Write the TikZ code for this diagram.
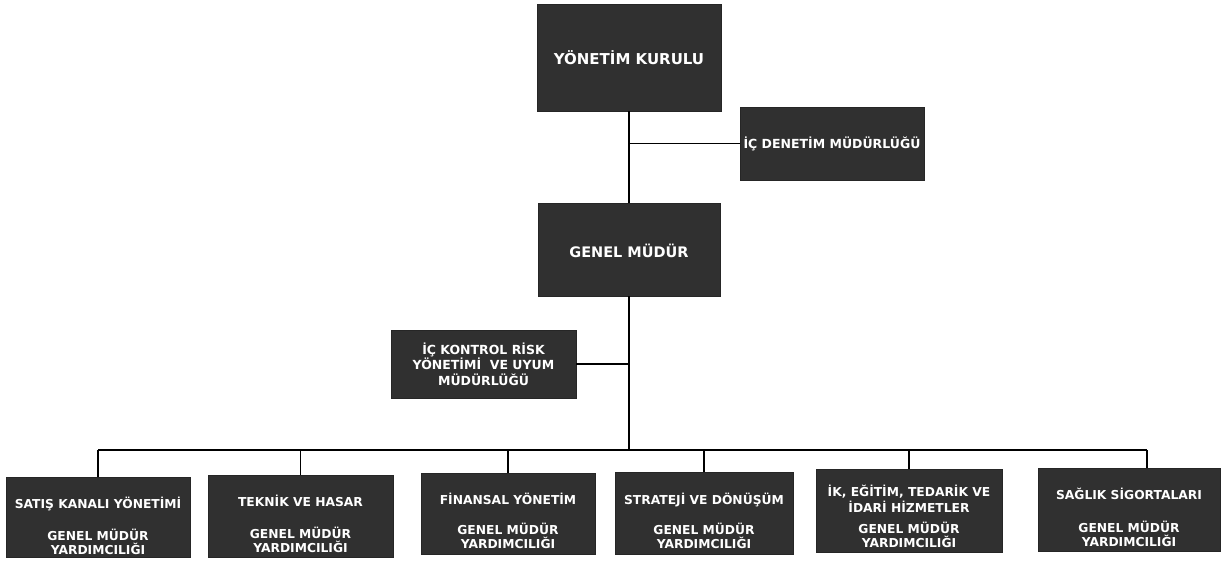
\documentclass[tikz,border=0pt]{standalone}
\usepackage{fontspec}
\setmainfont{DejaVu Sans}
\definecolor{boxgray}{RGB}{48,48,48}
\tikzset{
  box/.style={draw=boxgray!80!black, fill=boxgray, inner sep=0pt, line width=0.6pt},
  lbl/.style={text=white, font=\bfseries, align=center, inner sep=0pt},
  conn/.style={line width=1.3pt, black},
}
\begin{document}
\begin{tikzpicture}[x=1pt,y=-1pt]
\useasboundingbox (0,0) rectangle (1230,561);
% top boxes
\node[box, minimum width=184pt, minimum height=107pt] (yk) at (629,57.5) {};
\node[lbl, font=\bfseries\fontsize{15}{17}\selectfont] (ykt) at (yk.center) {YÖNETİM KURULU};
\node[box, minimum width=184pt, minimum height=73pt] (id) at (832,143.5) {};
\node[lbl, font=\bfseries\fontsize{12.5}{15}\selectfont] (idt) at (id.center) {İÇ DENETİM MÜDÜRLÜĞÜ};
\node[box, minimum width=182pt, minimum height=93pt] (gm) at (629,249.5) {};
\node[lbl, font=\bfseries\fontsize{14.5}{17}\selectfont] (gmt) at ([yshift=-1.5pt]gm.center) {GENEL MÜDÜR};
\node[box, minimum width=185pt, minimum height=68pt] (ik) at (483.5,364) {};
\node[lbl, font=\bfseries\fontsize{12.5}{15.5}\selectfont] (ikt) at (ik.center) {İÇ KONTROL RİSK\\YÖNETİMİ\ \ VE UYUM\\MÜDÜRLÜĞÜ};
% bottom boxes
\node[box, minimum width=184pt, minimum height=80pt] (b1) at (98,517) {};
\node[box, minimum width=185pt, minimum height=82pt] (b2) at (300.5,516) {};
\node[box, minimum width=174pt, minimum height=81pt] (b3) at (508,513.5) {};
\node[box, minimum width=178pt, minimum height=82pt] (b4) at (704,513) {};
\node[box, minimum width=186pt, minimum height=83pt] (b5) at (909,510.5) {};
\node[box, minimum width=182pt, minimum height=83pt] (b6) at (1129,509.5) {};
\tikzset{blbl/.style={lbl, font=\bfseries\fontsize{12.3}{14}\selectfont}}
\node[blbl] (b1t) at ([yshift=-8.5pt]b1.center) {SATIŞ KANALI YÖNETİMİ\\[18pt]GENEL MÜDÜR\\YARDIMCILIĞI};
\node[blbl] (b2t) at ([yshift=-8pt]b2.center) {TEKNİK VE HASAR\\[18pt]GENEL MÜDÜR\\YARDIMCILIĞI};
\node[blbl] (b3t) at ([yshift=-7.5pt]b3.center) {FİNANSAL YÖNETİM\\[16pt]GENEL MÜDÜR\\YARDIMCILIĞI};
\node[blbl] (b4t) at ([yshift=-7.5pt]b4.center) {STRATEJİ VE DÖNÜŞÜM\\[16pt]GENEL MÜDÜR\\YARDIMCILIĞI};
\node[blbl] (b5t) at ([yshift=-6pt]b5.center) {İK, EĞİTİM, TEDARİK VE\\[2pt]İDARİ HİZMETLER\\[7pt]GENEL MÜDÜR\\YARDIMCILIĞI};
\node[blbl] (b6t) at ([yshift=-8pt]b6.center) {SAĞLIK SİGORTALARI\\[19pt]GENEL MÜDÜR\\YARDIMCILIĞI};
% connectors
\coordinate (j1) at (yk.south |- id.west);
\coordinate (j2) at (gm.south |- ik.east);
\coordinate (bus) at (629,450);
\coordinate (busl) at (98,450);
\coordinate (busr) at (1147,450);
\draw[conn] (yk.south) -- (gm.north);
\draw[conn] (j1) -- (id.west);
\draw[conn] (gm.south) -- (bus);
\draw[conn] (j2) -- (ik.east);
\draw[conn] (busl) -- (busr);
\draw[conn] (busl) -- (b1.north);
\draw[conn] (b2.north |- bus) -- (b2.north);
\draw[conn] (b3.north |- bus) -- (b3.north);
\draw[conn] (b4.north |- bus) -- (b4.north);
\draw[conn] (b5.north |- bus) -- (b5.north);
\draw[conn] (busr) -- (busr |- b6.north);
\end{tikzpicture}
\end{document}
